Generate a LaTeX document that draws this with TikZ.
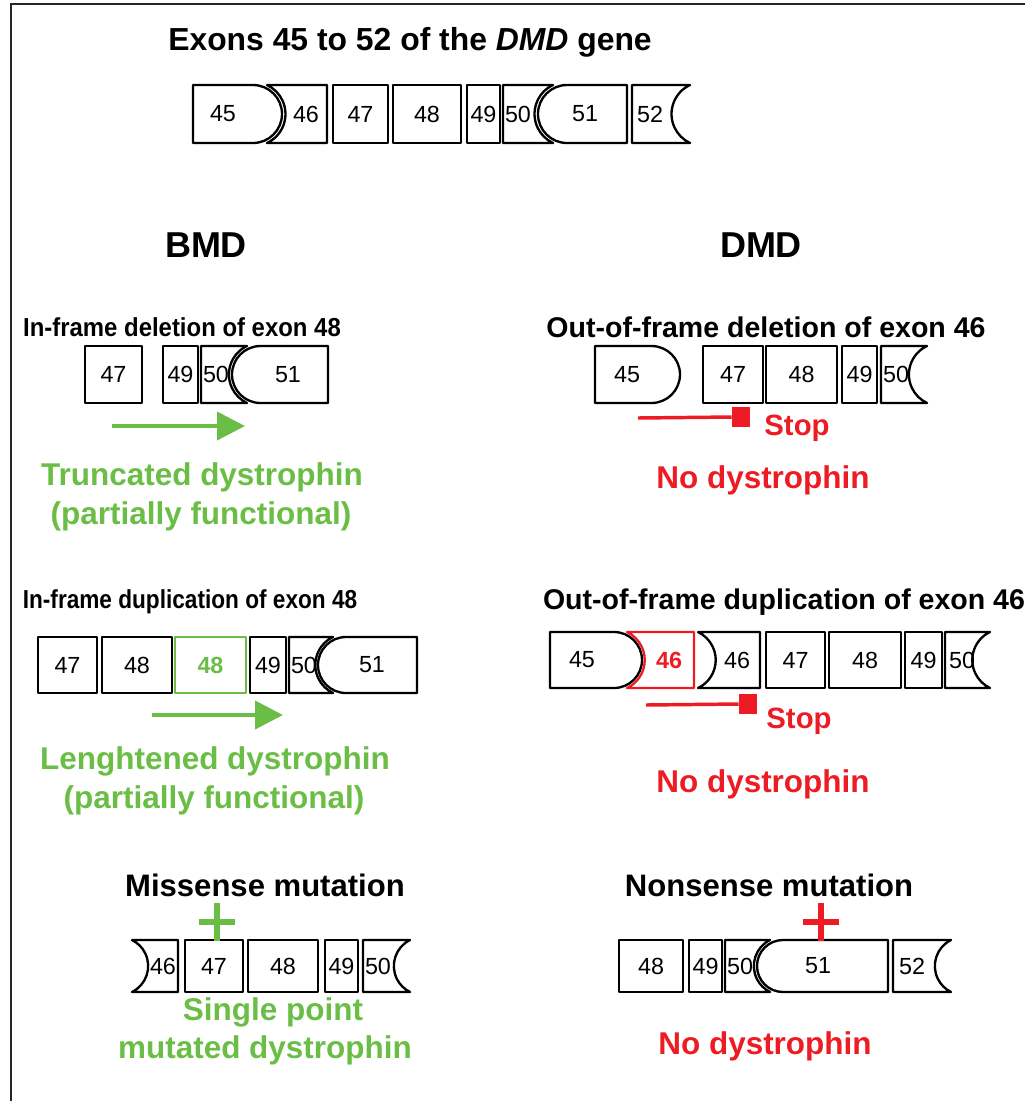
\documentclass[tikz,border=0pt]{standalone}
\usepackage{fontspec}
\setmainfont{Liberation Sans}
\usetikzlibrary{arrows.meta}
\definecolor{mygreen}{RGB}{106,189,69}
\definecolor{myred}{RGB}{237,28,36}
\tikzset{
  exonline/.style={line width=1.75pt, line join=round},
  exonlabel/.style={font=\fontsize{17.5}{21}\selectfont, inner sep=0pt},
  titletext/.style={font=\fontsize{23.9}{28}\selectfont\bfseries, inner sep=0pt},
  headtext/.style={font=\fontsize{27}{32}\selectfont\bfseries, inner sep=0pt},
  subtext/.style={font=\fontsize{19.5}{23}\selectfont\bfseries, inner sep=0pt, xscale=0.92},
  subtextb/.style={font=\fontsize{19.5}{23}\selectfont\bfseries, inner sep=0pt, xscale=0.87},
  rightsub/.style={font=\fontsize{21.4}{25}\selectfont\bfseries, inner sep=0pt},
  bigsub/.style={font=\fontsize{23.3}{27}\selectfont\bfseries, inner sep=0pt},
  resulttext/.style={font=\fontsize{23.6}{28}\selectfont\bfseries, inner sep=0pt},
  stoptext/.style={font=\fontsize{22}{26}\selectfont\bfseries, inner sep=0pt, text=myred},
  greenarrow/.style={draw=mygreen, line width=3pt, -{Triangle[length=21pt,width=21pt]}},
  redline/.style={draw=myred, line width=2.6pt},
  stopsquare/.style={fill=myred, minimum width=13.5pt, minimum height=15pt, inner sep=0pt},
  plusline/.style={line width=4.5pt},
  frameline/.style={line width=1.5pt, draw=black!85}
}
\def\eh{29}
\newcommand\exon[9]{%
 \pgfmathsetmacro\eR{\eh+3}%
 \pgfmathsetmacro\es{sqrt(\eR*\eR-\eh*\eh)}%
 \pgfmathsetmacro\ea{asin(\eh/\eR)}%
 \pgfmathsetmacro\eY{-#4}%
 \pgfmathsetmacro\eT{\eY+\eh}%
 \pgfmathsetmacro\eB{\eY-\eh}%
 \ifcase#5\relax
   \def\exls{(#2,\eT)}\def\exle{-- (#2,\eB) -- cycle}%
 \or
   \pgfmathsetmacro\exa{#2+\eh}%
   \def\exls{(\exa,\eT)}\def\exle{-- (\exa,\eB) arc[start angle=270,end angle=90,radius=\eh*0.75pt] -- cycle}%
 \or
   \def\exls{(#2,\eT)}\def\exle{-- (#2,\eB) arc[start angle=-\ea,end angle=\ea,radius=\eR*0.75pt] -- cycle}%
 \fi
 \ifcase#6\relax
   \def\exr{-- (#3,\eT) -- (#3,\eB)}%
 \or
   \pgfmathsetmacro\exb{#3-\eh}%
   \def\exr{-- (\exb,\eT) arc[start angle=90,end angle=-90,radius=\eh*0.75pt]}%
 \or
   \def\exr{-- (#3,\eT) arc[start angle=180-\ea,end angle=180+\ea,radius=\eR*0.75pt]}%
 \fi
 \draw[exonline,draw=#9] \exls \exr \exle;
 \node[exonlabel,text=#9] (#1) at (#7,\eY) {#8};
}
\begin{document}
\begin{tikzpicture}[x=0.75pt,y=0.75pt]
\useasboundingbox (0,0) rectangle (1025,-1101);
% frame
\coordinate (fc) at (11,-4);
\coordinate (fr) at (1025,-4);
\coordinate (fb) at (11,-1101);
\draw[frameline] (fr) -- (fc) -- (fb);

% title
\node[titletext] (title) at (410,-42) {Exons 45 to 52 of the \textit{DMD} gene};

% top row
\def\eh{29}
\exon{t45}{193}{282}{114}{0}{1}{223}{45}{black}
\exon{t46}{267}{327}{114}{2}{0}{306}{46}{black}
\exon{t47}{333}{388}{114}{0}{0}{360.5}{47}{black}
\exon{t48}{393}{461}{114}{0}{0}{427}{48}{black}
\exon{t49}{467}{500}{114}{0}{0}{483.5}{49}{black}
\exon{t50}{503}{553}{114}{0}{2}{518}{50}{black}
\exon{t51}{538}{627}{114}{1}{0}{585}{51}{black}
\exon{t52}{632}{690}{114}{0}{2}{650}{52}{black}

% headings
\node[headtext] (bmd) at (206,-245) {BMD};
\node[headtext] (dmd) at (761,-245) {DMD};

% BMD deletion
\node[subtext] (s1) at (182,-327) {In-frame deletion of exon 48};
\def\eh{28.5}
\exon{a47}{85}{142}{374.5}{0}{0}{113.5}{47}{black}
\exon{a49}{163}{198}{374.5}{0}{0}{180.5}{49}{black}
\exon{a50}{201}{247}{374.5}{0}{2}{216}{50}{black}
\exon{a51}{232}{328}{374.5}{1}{0}{288}{51}{black}
\coordinate (ga1) at (112,-426);
\coordinate (ga2) at (245,-426);
\draw[greenarrow] (ga1) -- (ga2);
\node[resulttext,text=mygreen] (r1a) at (202,-477) {Truncated dystrophin};
\node[resulttext,text=mygreen] (r1b) at (201,-516) {(partially functional)};

% DMD deletion
\node[rightsub] (s2) at (766,-327) {Out-of-frame deletion of exon 46};
\exon{b45}{595}{680}{374.5}{0}{1}{627}{45}{black}
\exon{b47}{703}{763}{374.5}{0}{0}{733}{47}{black}
\exon{b48}{766}{837}{374.5}{0}{0}{801.5}{48}{black}
\exon{b49}{842}{877}{374.5}{0}{0}{859.5}{49}{black}
\exon{b50}{881}{927}{374.5}{0}{2}{896}{50}{black}
\coordinate (rl1) at (638,-418);
\node[stopsquare] (sq1) at (741,-417) {};
\draw[redline] (rl1) -- (sq1.west);
\node[stoptext] (stop1) at (797,-428) {Stop};
\node[resulttext,text=myred] (r2) at (763,-480) {No dystrophin};

% BMD duplication
\node[subtextb] (s3) at (190,-602) {In-frame duplication of exon 48};
\def\eh{28}
\exon{c47}{38}{97}{665}{0}{0}{67.5}{47}{black}
\exon{c48}{102}{172}{665}{0}{0}{137}{48}{black}
\exon{c48g}{175}{246}{665}{0}{0}{210.5}{\textbf{48}}{mygreen}
\exon{c49}{250}{286}{665}{0}{0}{268}{49}{black}
\exon{c50}{289}{333}{665}{0}{2}{304}{50}{black}
\exon{c51}{318}{417}{665}{1}{0}{372}{51}{black}
\coordinate (gb1) at (152,-715);
\coordinate (gb2) at (283,-715);
\draw[greenarrow] (gb1) -- (gb2);
\node[resulttext,text=mygreen] (r3a) at (215,-761) {Lenghtened dystrophin};
\node[resulttext,text=mygreen] (r3b) at (214,-800) {(partially functional)};

% DMD duplication
\node[rightsub] (s4) at (784,-602) {Out-of-frame duplication of exon 46};
\exon{d45}{550}{642}{660}{0}{1}{582}{45}{black}
\exon{d46r}{627}{694}{660}{2}{0}{669}{\textbf{46}}{myred}
\exon{d46}{698}{760}{660}{2}{0}{737}{46}{black}
\exon{d47}{766}{825}{660}{0}{0}{795.5}{47}{black}
\exon{d48}{829}{901}{660}{0}{0}{865}{48}{black}
\exon{d49}{905}{942}{660}{0}{0}{923.5}{49}{black}
\exon{d50}{945}{990}{660}{0}{2}{962}{50}{black}
\coordinate (rl2) at (646,-705);
\node[stopsquare] (sq2) at (748,-704) {};
\draw[redline] (rl2) -- (sq2.west);
\node[stoptext] (stop2) at (799,-721) {Stop};
\node[resulttext,text=myred] (r4) at (763,-784) {No dystrophin};

% Missense
\node[bigsub] (s5) at (265,-885) {Missense mutation};
\def\eh{26}
\exon{e46}{132}{178}{966}{2}{0}{163}{46}{black}
\exon{e47}{185}{243}{966}{0}{0}{214}{47}{black}
\exon{e48}{248}{318}{966}{0}{0}{283}{48}{black}
\exon{e49}{325}{358}{966}{0}{0}{341.5}{49}{black}
\exon{e50}{363}{410}{966}{0}{2}{378}{50}{black}
\coordinate (gp) at (217,-922);
\draw[plusline,draw=mygreen] ([xshift=-13.5pt]gp) -- ([xshift=13.5pt]gp);
\draw[plusline,draw=mygreen] ([yshift=14pt]gp) -- ([yshift=-14pt]gp);
\node[resulttext,text=mygreen] (r5a) at (273,-1012) {Single point};
\node[resulttext,text=mygreen] (r5b) at (265,-1050) {mutated dystrophin};

% Nonsense
\node[bigsub] (s6) at (769,-885) {Nonsense mutation};
\exon{f48}{619}{683}{966}{0}{0}{651}{48}{black}
\exon{f49}{689}{722}{966}{0}{0}{705.5}{49}{black}
\exon{f50}{725}{770}{966}{0}{2}{740}{50}{black}
\exon{f51}{757}{888}{966}{1}{0}{818}{51}{black}
\exon{f52}{893}{951}{966}{0}{2}{912}{52}{black}
\coordinate (rp) at (821,-922);
\draw[plusline,draw=myred] ([xshift=-13.5pt]rp) -- ([xshift=13.5pt]rp);
\draw[plusline,draw=myred] ([yshift=14pt]rp) -- ([yshift=-14pt]rp);
\node[resulttext,text=myred] (r6) at (765,-1046) {No dystrophin};
\end{tikzpicture}
\end{document}
